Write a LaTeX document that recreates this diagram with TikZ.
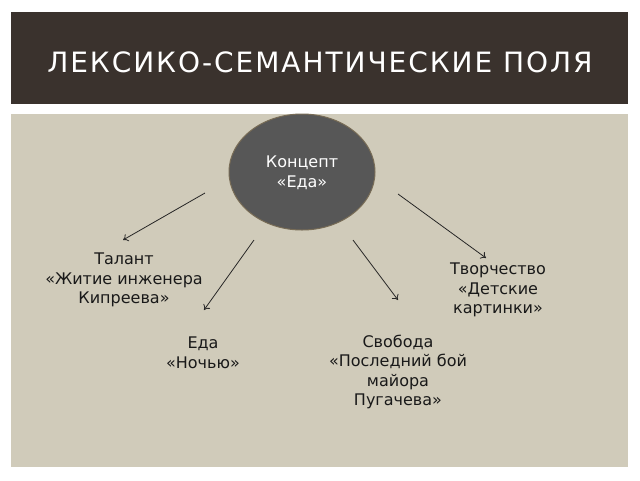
\documentclass[tikz,border=0pt]{standalone}
\usepackage{fontspec}
\setmainfont{DejaVu Sans}
\newfontfamily\titlefont[LetterSpace=7]{DejaVu Sans}
\usetikzlibrary{arrows.meta,shapes.geometric}
\definecolor{barcol}{RGB}{58,50,45}
\definecolor{panelcol}{RGB}{208,203,186}
\definecolor{circfill}{RGB}{87,87,87}
\definecolor{circedge}{RGB}{120,108,86}
\tikzset{
  lbl/.style={align=center, font=\fontsize{16}{19.5}\selectfont, text=black!90, inner sep=0pt},
  arr/.style={draw=black!85, line width=0.8pt, -{To[length=5pt,width=8pt]}},
}
\begin{document}
\begin{tikzpicture}[x=1pt,y=-1pt]
\useasboundingbox (0,0) rectangle (640,480);
\fill[white] (0,0) rectangle (640,480);
\fill[barcol] (11,12) rectangle (628,104);
\node[text=white, font=\titlefont\fontsize{28}{30}\selectfont] (title) at (320,62) {ЛЕКСИКО-СЕМАНТИЧЕСКИЕ ПОЛЯ};
\fill[panelcol] (11,114) rectangle (628,467);
\node[ellipse, draw=circedge, line width=1pt, fill=circfill, minimum width=146pt, minimum height=116pt, inner sep=0pt] (c) at (302,172) {};
\node[lbl, text=white] (ct) at (302,173) {Концепт\\«Еда»};
\node[lbl] (t1) at (124,280) {Талант\\«Житие инженера\\Кипреева»};
\node[lbl] (t2) at (498,290) {Творчество\\ «Детские\\картинки»};
\node[lbl] (t3) at (203,353) {Еда\\«Ночью»};
\node[lbl] (t4) at (398,372) {Свобода\\«Последний бой\\майора\\Пугачева»};
\coordinate (a1s) at (205,193); \coordinate (a1e) at (123,240);
\coordinate (a2s) at (254,240); \coordinate (a2e) at (204,310);
\coordinate (a3s) at (353,240); \coordinate (a3e) at (398,300);
\coordinate (a4s) at (398,194); \coordinate (a4e) at (486,258);
\draw[arr] (a1s) -- (a1e);
\draw[arr] (a2s) -- (a2e);
\draw[arr] (a3s) -- (a3e);
\draw[arr] (a4s) -- (a4e);
\end{tikzpicture}
\end{document}
